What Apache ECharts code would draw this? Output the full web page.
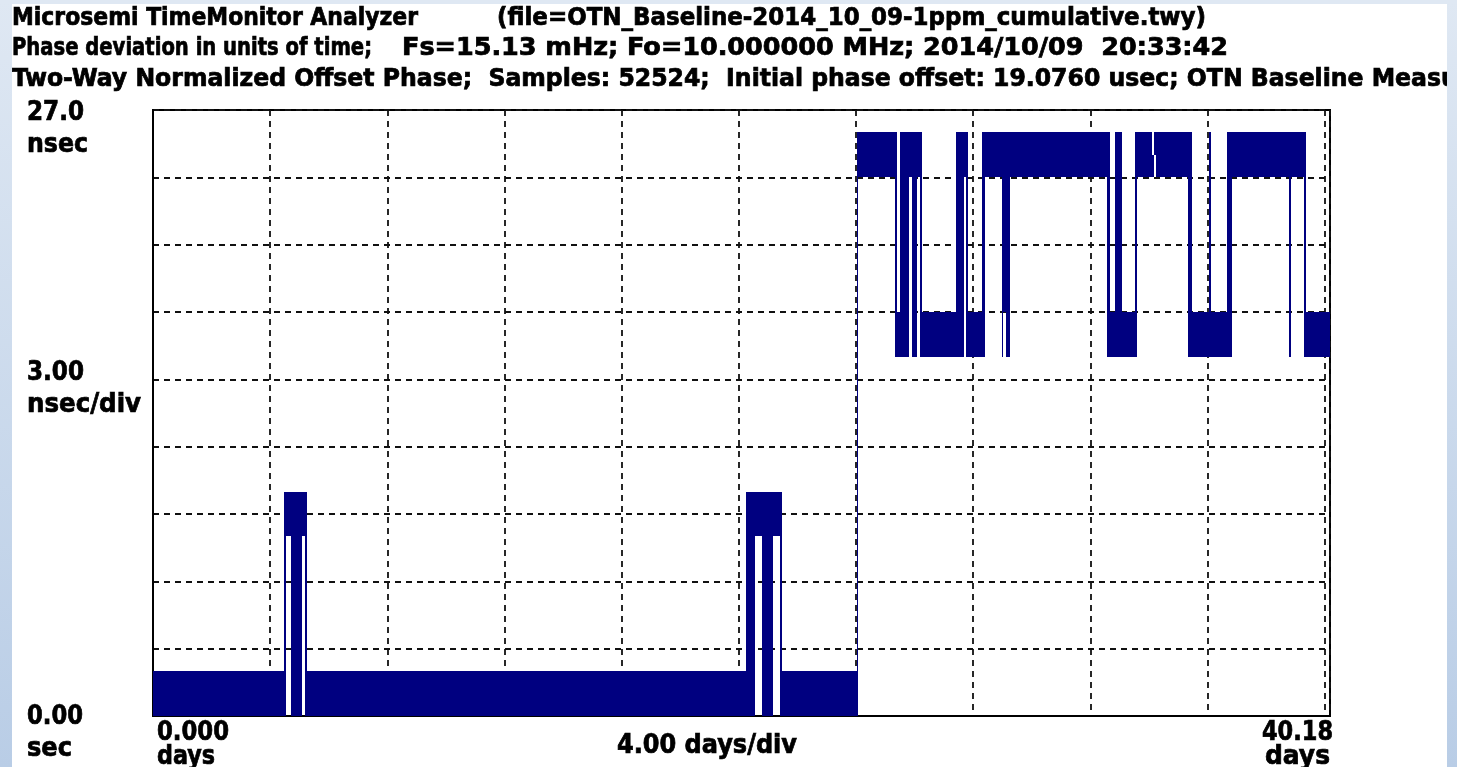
<!DOCTYPE html>
<html><head><meta charset="utf-8">
<script src="https://cdn.jsdelivr.net/npm/echarts@6/dist/echarts.min.js"></script>
<style>html,body{margin:0;padding:0;background:#fff;overflow:hidden}#c{width:1457px;height:767px}</style>
</head><body><div id="c"></div>
<script>
// ---- axes ----
const xMin = 0, xMax = 40.18, xInterval = 4;   // days
const yMin = 0, yMax = 27, yInterval = 3;      // nsec
// ---- data: dithering bands of the phase trace [start day, end day, low nsec, high nsec] ----
const segStart = [0, 4.482, 4.551, 4.701, 5.076, 5.179, 5.247, 20.233, 20.541, 20.780, 21.155, 21.404, 21.473,
  24.023, 24.057, 25.330, 25.409, 25.501, 25.808, 25.900, 26.071, 26.184, 26.262, 27.402, 27.685, 27.754, 27.832,
  28.290, 28.402, 28.972, 29.027, 29.109, 29.256, 32.577, 32.670, 32.840, 33.069, 33.523, 33.591, 34.104, 34.172,
  34.240, 35.343, 35.479, 36.049, 36.118, 36.664, 36.824, 38.780, 38.849, 39.303, 39.361];
const segEnd = [4.482, 4.551, 4.701, 5.076, 5.179, 5.247, 20.233, 20.541, 20.780, 21.155, 21.404, 21.473, 24.023,
  24.057, 25.330, 25.409, 25.501, 25.808, 25.900, 26.071, 26.184, 26.262, 27.402, 27.685, 27.754, 27.832, 28.290,
  28.402, 28.972, 29.027, 29.109, 29.256, 32.577, 32.670, 32.840, 33.069, 33.523, 33.591, 34.104, 34.172, 34.240,
  35.343, 35.479, 36.049, 36.118, 36.664, 36.824, 38.780, 38.849, 39.303, 39.361, 40.18];
const segLow = [0, 0, 8, 0, 8, 0, 0, 0, 8, 0, 8, 0, 0,
  0, 24, 16, 16, 16, 24, 16, 24, 16, 16, 16, 24, 16, 16,
  16, 24, 16, 18, 16, 24, 16, 16, 16, 16, 16, 24, 24, 25,
  24, 16, 16, 16, 16, 16, 24, 16, 24, 16, 16];
const segHigh = [2, 10, 10, 10, 10, 10, 2, 10, 10, 10, 10, 10, 2,
  26, 26, 26, 18, 26, 26, 26, 26, 26, 18, 26, 26, 26, 18,
  26, 26, 26, 26, 26, 26, 26, 18, 26, 18, 26, 26, 25, 26,
  26, 26, 18, 26, 18, 26, 26, 26, 26, 26, 18];
// ---- texts ----
const titleLine1a = 'Microsemi TimeMonitor Analyzer';
const titleLine1b = '(file=OTN_Baseline-2014_10_09-1ppm_cumulative.twy)';
const titleLine2a = 'Phase deviation in units of time;';
const titleLine2b = 'Fs=15.13 mHz; Fo=10.000000 MHz; 2014/10/09  20:33:42';
const titleLine3Visible = 'Two-Way Normalized Offset Phase;  Samples: 52524;  Initial phase offset: 19.0760 usec; OTN Baseline Meas';
const titleLine3Rest = 'urement';
const yTopLabel = ['27.0', 'nsec'];
const yMidLabel = ['3.00', 'nsec/div'];
const yBotLabel = ['0.00', 'sec'];
const xLeftLabel = ['0.000', 'days'];
const xMidLabel = '4.00 days/div';
const xRightLabel = ['40.18', 'days'];

const FONT_FAMILY = '"Liberation Sans Narrow","DejaVu Sans Condensed","Liberation Sans",sans-serif';
const mctx = document.createElement('canvas').getContext('2d');
function txt(text, x, y, size, targetW, align, measureText) {
  const font = 'bold ' + size + 'px ' + FONT_FAMILY;
  mctx.font = font;
  const w = mctx.measureText(measureText || text).width;
  return { type: 'text', x: x, y: y, scaleX: targetW / w, z: 50,
    style: { text: text, font: font, fill: '#000', stroke: '#000', lineWidth: 0.7,
      align: align || 'left', verticalAlign: 'middle' } };
}

const G = { left: 153, top: 110, width: 1177, height: 606 };
const chart = echarts.init(document.getElementById('c'), null, { renderer: 'canvas' });
const data = segStart.map((s, i) => [s, segEnd[i], segLow[i], segHigh[i]]);
const blue = '#000080';

const borderGrad = new echarts.graphic.LinearGradient(0, 0, 0, 1, [
  { offset: 0, color: '#dfe8f3' }, { offset: 1, color: '#b9cde6' }]);
const gridLine = { color: '#111', width: 1.8, type: [6, 5] };

chart.setOption({
  animation: false,
  backgroundColor: '#fff',
  grid: { left: G.left, top: G.top, width: G.width, height: G.height, show: true,
    borderColor: '#000', borderWidth: 2, backgroundColor: 'transparent' },
  xAxis: { type: 'value', min: xMin, max: xMax, interval: xInterval,
    axisLine: { show: true, lineStyle: { color: '#000', width: 2 } },
    axisTick: { show: false }, axisLabel: { show: false },
    splitLine: { show: true, lineStyle: gridLine } },
  yAxis: { type: 'value', min: yMin, max: yMax, interval: yInterval,
    axisLine: { show: true, lineStyle: { color: '#000', width: 2 } },
    axisTick: { show: false }, axisLabel: { show: false },
    splitLine: { show: true, lineStyle: gridLine } },
  series: [{
    type: 'custom', clip: true, data: data,
    renderItem: function (params, api) {
      const p0 = api.coord([api.value(0), api.value(3)]);
      const p1 = api.coord([api.value(1), api.value(2)]);
      const x0 = Math.round(p0[0]), x1 = Math.round(p1[0]);
      const y0 = Math.round(p0[1]), y1 = Math.round(p1[1]);
      return { type: 'rect', shape: { x: x0, y: y0, width: Math.max(1, x1 - x0), height: y1 - y0 },
        style: { fill: blue, stroke: null } };
    }
  }],
  graphic: [
    txt(titleLine1a, 12, 18, 25, 406),
    txt(titleLine1b, 497, 18, 25, 709),
    txt(titleLine2a, 12, 48, 25, 360),
    txt(titleLine2b, 402, 48, 25, 826),
    txt(titleLine3Visible + titleLine3Rest, 12, 79, 25, 1429, 'left', titleLine3Visible),
    txt(yTopLabel[0], 27, 113, 27, 57),
    txt(yTopLabel[1], 27, 145, 27, 61),
    txt(yMidLabel[0], 27, 373, 27, 57),
    txt(yMidLabel[1], 27, 405, 27, 114),
    txt(yBotLabel[0], 27, 717, 27, 56),
    txt(yBotLabel[1], 27, 749, 27, 45),
    txt(xLeftLabel[0], 157, 733, 27, 72),
    txt(xLeftLabel[1], 157, 757, 27, 58),
    txt(xMidLabel, 617, 746, 27, 180),
    txt(xRightLabel[0], 1333, 733, 27, 71, 'right'),
    txt(xRightLabel[1], 1330, 757, 27, 65, 'right'),
    { type: 'rect', z: 100, shape: { x: 0, y: 0, width: 12, height: 767 }, style: { fill: borderGrad } },
    { type: 'rect', z: 100, shape: { x: 1447, y: 0, width: 10, height: 767 }, style: { fill: borderGrad } },
    { type: 'rect', z: 100, shape: { x: 0, y: 0, width: 1457, height: 4 }, style: { fill: '#dfe8f3' } }
  ]
});
</script></body></html>
